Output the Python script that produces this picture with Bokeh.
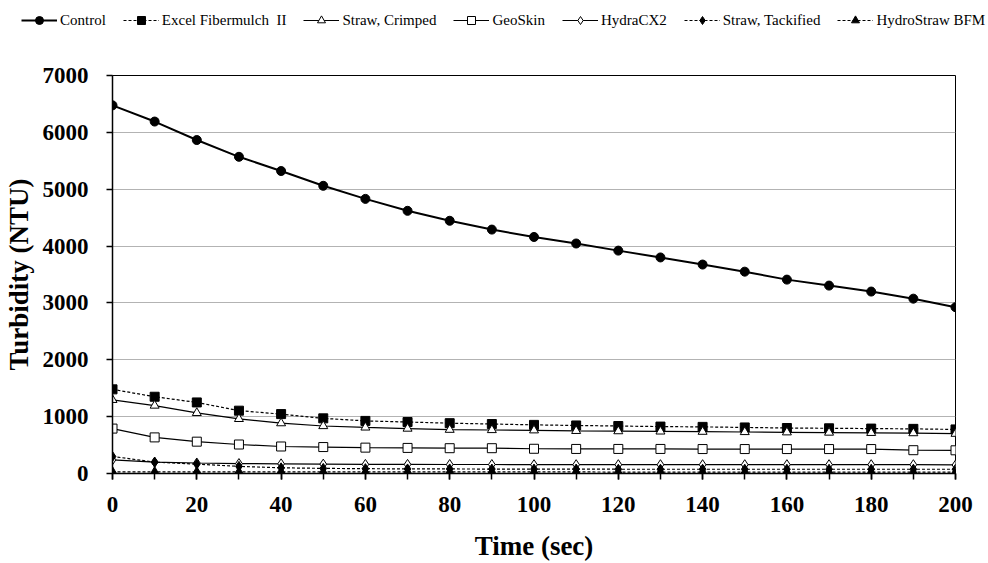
from bokeh.plotting import figure
from bokeh.models import FixedTicker, Legend, LegendItem, Range1d
from bokeh.layouts import column
from bokeh.embed import file_html
from bokeh.resources import INLINE

time_sec = [0, 10, 20, 30, 40, 50, 60, 70, 80, 90, 100, 110, 120, 130, 140, 150, 160, 170, 180, 190, 200]
control = [6475, 6190, 5865, 5570, 5320, 5060, 4830, 4620, 4445, 4290, 4160, 4045, 3920, 3800, 3675, 3550, 3410, 3305, 3200, 3075, 2925]
excel_fibermulch = [1480, 1350, 1250, 1105, 1045, 970, 925, 905, 885, 870, 855, 845, 835, 825, 820, 810, 800, 795, 790, 785, 775]
straw_crimped = [1295, 1195, 1065, 960, 885, 835, 810, 790, 770, 765, 760, 750, 745, 740, 735, 730, 725, 720, 715, 710, 700]
geoskin = [790, 635, 560, 510, 475, 465, 455, 450, 445, 445, 435, 432, 432, 432, 430, 430, 430, 430, 430, 410, 408]
hydracx2 = [240, 200, 185, 175, 170, 165, 160, 160, 158, 158, 155, 155, 155, 155, 155, 155, 155, 155, 155, 155, 150]
straw_tackified = [300, 200, 165, 125, 100, 90, 85, 80, 80, 78, 78, 78, 75, 75, 75, 75, 75, 75, 75, 75, 75]
hydrostraw_bfm = [30, 30, 30, 30, 30, 28, 28, 28, 28, 28, 28, 28, 25, 25, 25, 25, 25, 25, 25, 25, 25]

x_ticks = [0, 20, 40, 60, 80, 100, 120, 140, 160, 180, 200]
y_ticks = [0, 1000, 2000, 3000, 4000, 5000, 6000, 7000]

FONT = "Liberation Serif"

p = figure(width=988, height=523, output_backend="svg", toolbar_location=None,
           x_range=Range1d(0, 200), y_range=Range1d(0, 7000),
           min_border_left=109, min_border_right=33, min_border_top=35, min_border_bottom=89)
p.frame_align = False
p.background_fill_color = "white"
p.border_fill_color = "white"
p.outline_line_color = "black"
p.outline_line_width = 1

p.xgrid.visible = False
p.ygrid.grid_line_color = "#b3b3b3"
p.ygrid.grid_line_width = 1

p.xaxis.ticker = FixedTicker(ticks=x_ticks, minor_ticks=time_sec)
p.yaxis.ticker = FixedTicker(ticks=y_ticks, minor_ticks=[])
for ax in (p.xaxis[0], p.yaxis[0]):
    ax.axis_line_color = "black"
    ax.axis_line_width = 1.5
    ax.major_tick_line_color = "black"
    ax.major_tick_line_width = 1.5
    ax.major_tick_in = 0
    ax.major_tick_out = 6
    ax.minor_tick_in = 0
    ax.minor_tick_out = 6
    ax.minor_tick_line_color = "black"
    ax.minor_tick_line_width = 1.5
    ax.major_label_text_font = FONT
    ax.major_label_text_font_style = "bold"
    ax.major_label_text_font_size = "23px"
    ax.major_label_text_color = "black"
    ax.axis_label_text_font = FONT
    ax.axis_label_text_font_style = "bold"
    ax.axis_label_text_font_size = "27px"
    ax.axis_label_text_color = "black"
p.yaxis.minor_tick_line_color = None
p.xaxis.major_label_standoff = 17
p.yaxis.major_label_standoff = 18
p.xaxis.axis_label = "Time (sec)"
p.yaxis.axis_label = "Turbidity (NTU)"
p.xaxis.axis_label_standoff = 16
p.yaxis.axis_label_standoff = 6

series = [
    ("Control", control, "solid", 2, "circle", 9, "black"),
    ("Excel Fibermulch  II", excel_fibermulch, "3 2", 1.2, "square", 9, "black"),
    ("Straw, Crimped", straw_crimped, "solid", 1.2, "triangle", 9, "white"),
    ("GeoSkin", geoskin, "solid", 1.2, "square", 9, "white"),
    ("HydraCX2", hydracx2, "solid", 1.2, "diamond", 10, "white"),
    ("Straw, Tackified", straw_tackified, "3 2", 1.2, "diamond", 10, "black"),
    ("HydroStraw BFM", hydrostraw_bfm, "3 2", 1.2, "triangle", 9, "black"),
]

# legend strip above the chart
pl = figure(width=988, height=40, output_backend="svg", toolbar_location=None,
            x_range=Range1d(0, 1), y_range=Range1d(0, 1),
            x_axis_location=None, y_axis_location=None,
            min_border=0, min_border_left=0, min_border_right=0,
            min_border_top=0, min_border_bottom=0)
pl.frame_align = False
pl.grid.visible = False
pl.outline_line_color = None
pl.background_fill_color = "white"
pl.border_fill_color = "white"

items = []
for name, vals, dash, lw, marker, size, fill in series:
    p.line(time_sec, vals, line_color="black", line_width=lw, line_dash=dash)
    p.scatter(time_sec, vals, marker=marker, size=size, fill_color=fill,
              line_color="black", line_width=1)
    # legend-only renderers (placed outside the strip's visible range)
    l1 = pl.line([-5, -4], [-5, -5], line_color="black", line_width=lw, line_dash=dash)
    l2 = pl.scatter([-5], [-5], marker=marker, size=size, fill_color=fill,
                    line_color="black", line_width=1)
    items.append(LegendItem(label=name, renderers=[l1, l2]))

legend = Legend(items=items, orientation="horizontal", location=(21, 10),
                glyph_width=36, glyph_height=20, label_standoff=3, spacing=17,
                padding=0, margin=0, border_line_color=None, background_fill_alpha=0,
                label_text_font=FONT, label_text_font_size="15px", label_text_color="black",
                label_height=20)
pl.add_layout(legend, "center")

layout = column(pl, p, spacing=0)
open("out.html", "w").write(file_html(layout, INLINE))
